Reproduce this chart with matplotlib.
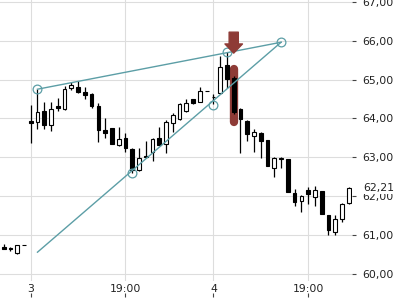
import matplotlib
matplotlib.use("Agg")
import matplotlib.pyplot as plt
from matplotlib.patches import FancyArrowPatch
from matplotlib.ticker import FuncFormatter

# candle data (x = bar index, day "3" starts at index 0)
idx = list(range(-4, 48))
opens = [60.68, 60.67, 60.52, 60.73,
         63.93, 63.91, 64.20, 63.83, 64.32, 64.23, 64.79, 64.80, 64.67, 64.62,
         64.32, 63.70, 63.74, 63.31, 63.50, 63.22, 62.67, 63.04, 63.12, 63.48,
         63.34, 63.87, 63.97, 64.20, 64.49, 64.41, 64.70,
         64.55, 64.65, 65.37, 65.04, 64.23, 63.94, 63.55, 63.61, 63.44, 62.71,
         62.95, 62.95, 62.07, 61.88, 62.15, 61.98, 62.13, 61.51, 61.08, 61.40, 61.81]
highs = [60.76, 60.69, 60.74, 60.73,
         64.34, 64.75, 64.41, 64.41, 64.53, 64.83, 64.93, 64.97, 64.80, 64.66,
         64.40, 64.00, 63.74, 63.77, 63.61, 63.24, 63.23, 63.42, 63.48, 63.77,
         63.96, 64.13, 64.39, 64.50, 64.51, 64.80, 64.70,
         64.62, 65.60, 65.72, 65.10, 64.26, 63.95, 63.72, 63.65, 63.45, 63.01,
         63.00, 62.96, 62.17, 62.02, 62.22, 62.26, 62.13, 61.52, 61.51, 61.82, 62.23]
lows = [60.63, 60.58, 60.51, 60.73,
        63.36, 63.72, 63.72, 63.68, 64.20, 64.21, 64.73, 64.66, 64.49, 64.26,
        63.40, 63.50, 63.33, 63.29, 63.14, 62.60, 62.65, 62.99, 62.91, 63.31,
        63.11, 63.65, 63.95, 64.17, 64.38, 64.41, 64.70,
        64.38, 64.62, 64.78, 64.10, 63.10, 63.42, 63.14, 62.97, 62.78, 62.49,
        62.71, 62.11, 61.74, 61.59, 61.79, 61.74, 61.53, 60.99, 60.99, 61.32, 61.80]
closes = [60.63, 60.62, 60.73, 60.73,
          63.89, 64.17, 63.83, 64.23, 64.27, 64.75, 64.85, 64.69, 64.60, 64.32,
          63.70, 63.63, 63.33, 63.46, 63.23, 62.68, 62.99, 63.00, 63.46, 63.31,
          63.90, 64.09, 64.37, 64.39, 64.40, 64.70, 64.70,
          64.55, 65.31, 65.02, 64.16, 63.97, 63.60, 63.64, 63.42, 62.78, 62.99,
          62.97, 62.11, 61.84, 62.01, 62.04, 62.15, 61.53, 61.12, 61.40, 61.79, 62.21]

xtick_pos = [0, 14, 27, 41]
xtick_labels = ["3", "19:00", "4", "19:00"]
ytick_vals = [60, 61, 62, 63, 64, 65, 66, 67]
last_price = 62.21

# drawn wedge (teal)
upper_line_x = [1, 37]
upper_line_y = [64.75, 65.96]
lower_line_x = [1, 37]
lower_line_y = [60.55, 65.96]
pivot_x = [1, 15, 27, 29, 37]
pivot_y = [64.75, 62.60, 64.35, 65.70, 65.96]

# signal marker (red)
signal_x = 30
signal_bar = (65.28, 63.90)
signal_arrow = (66.22, 65.68)

teal = "#5c9ea6"
red = "#8e3b36"
txt = "#222222"

fig = plt.figure(figsize=(4, 3), dpi=100)
ax = fig.add_axes([0, 0.0633, 0.88, 0.9367])

for s in ax.spines.values():
    s.set_visible(False)
ax.grid(True, color="#dddddd", linewidth=0.8)
ax.set_axisbelow(True)

# candles
ax.vlines(idx, lows, highs, color="black", linewidth=0.9, zorder=3)
bottoms = [min(o, c) for o, c in zip(opens, closes)]
heights = [abs(c - o) for o, c in zip(opens, closes)]
faces = ["white" if c > o else "black" for o, c in zip(opens, closes)]
ax.bar(idx, heights, bottom=bottoms, width=0.55, color=faces,
       edgecolor="black", linewidth=0.8, zorder=4)

# red highlight on signal candle, drawn under the candle
ax.plot([signal_x, signal_x], signal_bar, color=red, linewidth=6,
        solid_capstyle="round", zorder=2.5)
arr = FancyArrowPatch((signal_x, signal_arrow[0]), (signal_x, signal_arrow[1]),
                      arrowstyle="simple,head_length=0.55,head_width=1.05,tail_width=0.55",
                      mutation_scale=12, color=red, shrinkA=0, shrinkB=0, zorder=6)
ax.add_patch(arr)

# wedge lines
ax.plot(upper_line_x, upper_line_y, color=teal, linewidth=1.0, zorder=5)
ax.plot(lower_line_x, lower_line_y, color=teal, linewidth=1.0, zorder=5)
ax.plot(pivot_x, pivot_y, "o", markersize=6.3, markerfacecolor="none",
        markeredgecolor=teal, markeredgewidth=0.9, zorder=5)

ax.set_xlim(-4.54, 47.48)
ax.set_ylim(59.807, 67.049)

ax.set_xticks(xtick_pos)
ax.set_xticklabels(xtick_labels)
ax.tick_params(axis="x", length=0, pad=2, labelsize=7.8, labelcolor=txt)

ax.yaxis.tick_right()
ax.set_yticks(ytick_vals)
ax.yaxis.set_major_formatter(FuncFormatter(lambda v, p: f"{v:.2f}".replace(".", ",")))
ax.tick_params(axis="y", length=2.8, width=0.8, color="#444444", pad=4.5,
               labelsize=7.8, labelcolor=txt)

# small tick marks under the time labels
sec = ax.secondary_xaxis(-0.057)
sec.set_xticks(xtick_pos)
sec.tick_params(direction="in", length=3, width=0.8, color="#444444", labelbottom=False)
sec.spines["bottom"].set_visible(False)

# last price label
ax.text(1.0, last_price, f"{last_price:.2f}".replace(".", ","),
        transform=ax.get_yaxis_transform(), ha="left", va="center",
        fontsize=7.8, color=txt, zorder=10, clip_on=False,
        bbox=dict(boxstyle="square,pad=0.15", facecolor="white", edgecolor="none"))
# nudge to align with the tick labels
ax.texts[-1].set_x(1.0 + 11.5 / 352)

fig.savefig("out.png", dpi=100)
